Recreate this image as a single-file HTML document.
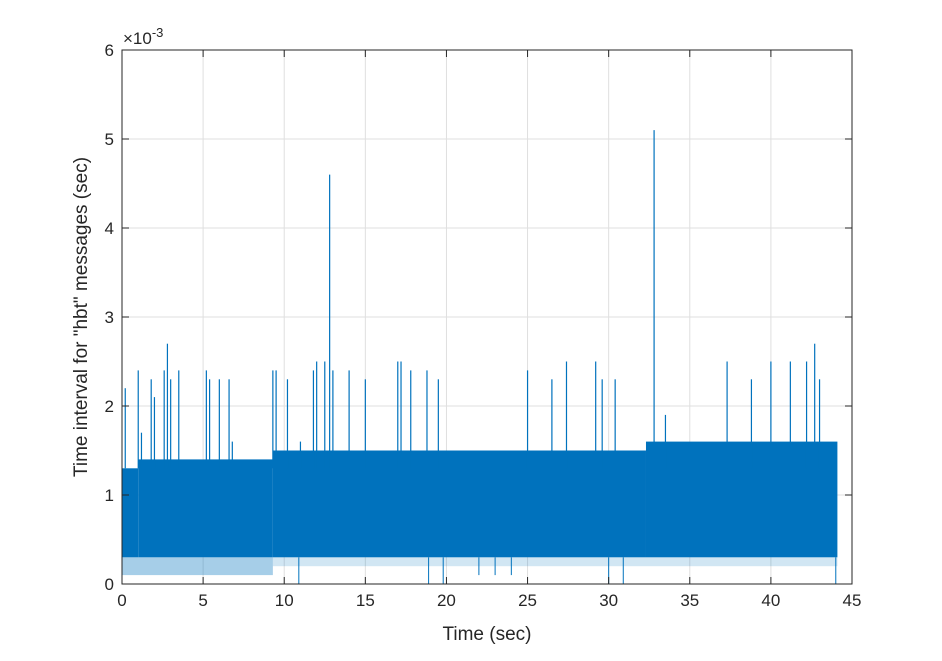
<!DOCTYPE html>
<html><head><meta charset="utf-8"><style>
body{margin:0;background:#fff;}
svg text{font-family:"Liberation Sans",sans-serif;fill:#262626;}
</style></head><body>
<svg id="chart" width="942" height="656" viewBox="0 0 942 656" xmlns="http://www.w3.org/2000/svg">
<rect width="942" height="656" fill="#fff"/>
<g id="grid"></g>
<g id="data"></g>
<g id="axes"></g>
<text x="487" y="640" font-size="19" text-anchor="middle">Time (sec)</text>
<text transform="translate(87,317) rotate(-90)" font-size="19" text-anchor="middle">Time interval for "hbt" messages (sec)</text>
<text x="123" y="44" font-size="17">×10<tspan dy="-7" font-size="13">-3</tspan></text>
</svg>
<script>
const xTicks=[0,5,10,15,20,25,30,35,40,45];
const yTicks=[0,1,2,3,4,5,6];
const bandStart=[0,1,9.3,32.3];
const bandEnd=[1,9.3,32.3,44.1];
const bandHigh=[1.3,1.4,1.5,1.6];
const bandLow=[0.3,0.3,0.3,0.3];
const dipStart=[0,9.3];
const dipEnd=[9.3,44.1];
const dipLow=[0.1,0.2];
const dipOpacity=[0.35,0.18];
const spikeT=[0.2,1.0,1.2,1.8,2.0,2.6,2.8,3.0,3.5,5.2,5.4,6.0,6.6,6.8,9.3,9.5,10.2,11.0,11.8,12.0,12.5,12.8,13.0,14.0,15.0,17.0,17.2,17.8,18.8,19.5,25.0,26.5,27.4,29.2,29.6,30.4,32.8,33.5,37.3,38.8,40.0,41.2,42.2,42.7,43.0];
const spikeV=[2.2,2.4,1.7,2.3,2.1,2.4,2.7,2.3,2.4,2.4,2.3,2.3,2.3,1.6,2.4,2.4,2.3,1.6,2.4,2.5,2.5,4.6,2.4,2.4,2.3,2.5,2.5,2.4,2.4,2.3,2.4,2.3,2.5,2.5,2.3,2.3,5.1,1.9,2.5,2.3,2.5,2.5,2.5,2.7,2.3];
const dropT=[10.9,18.9,19.8,22.0,23.0,24.0,30.0,30.9,44.0];
const dropV=[0,0,0,0.1,0.1,0.1,0,0,0];
const X0=122,X1=852,Y0=584,Y1=50;
const sx=v=>X0+(v-0)/(45-0)*(X1-X0);
const sy=v=>Y0-(v-0)/(6-0)*(Y0-Y1);
const NS="http://www.w3.org/2000/svg";
function mk(tag,attrs,parent){const e=document.createElementNS(NS,tag);for(const k in attrs)e.setAttribute(k,attrs[k]);parent.appendChild(e);return e;}
const grid=document.getElementById('grid'),data=document.getElementById('data'),axes=document.getElementById('axes');
xTicks.forEach(t=>{const l=mk('line',{x1:sx(t),x2:sx(t),y1:Y0,y2:Y1,stroke:'#dfdfdf','stroke-width':1},grid);

});
yTicks.forEach(t=>{const l=mk('line',{x1:X0,x2:X1,y1:sy(t),y2:sy(t),stroke:'#dfdfdf','stroke-width':1},grid);

});
const C='#0072BD';
dipStart.forEach((s,i)=>{const r=mk('rect',{x:sx(s),y:sy(0.3),width:sx(dipEnd[i])-sx(s),height:sy(dipLow[i])-sy(0.3),fill:C,opacity:dipOpacity[i]},data);

});
bandStart.forEach((s,i)=>{const r=mk('rect',{x:sx(s),y:sy(bandHigh[i]),width:sx(bandEnd[i])-sx(s),height:sy(bandLow[i])-sy(bandHigh[i]),fill:C},data);

});
spikeT.forEach((t,i)=>{const l=mk('line',{x1:sx(t),x2:sx(t),y1:sy(1.3),y2:sy(spikeV[i]),stroke:C,'stroke-width':1.2},data);

});
dropT.forEach((t,i)=>{const l=mk('line',{x1:sx(t),x2:sx(t),y1:sy(0.3),y2:sy(dropV[i]),stroke:C,'stroke-width':1},data);

});
const box=mk('rect',{x:X0,y:Y1,width:X1-X0,height:Y0-Y1,fill:'none',stroke:'#262626','stroke-width':1},axes);


xTicks.forEach(t=>{mk('line',{x1:sx(t),x2:sx(t),y1:Y0,y2:Y0-7,stroke:'#262626'},axes);mk('line',{x1:sx(t),x2:sx(t),y1:Y1,y2:Y1+7,stroke:'#262626'},axes);
const tx=mk('text',{x:sx(t),y:Y0+22,'font-size':17,'text-anchor':'middle'},axes);tx.textContent=t;

});
yTicks.forEach(t=>{mk('line',{x1:X0,x2:X0+7,y1:sy(t),y2:sy(t),stroke:'#262626'},axes);mk('line',{x1:X1,x2:X1-7,y1:sy(t),y2:sy(t),stroke:'#262626'},axes);
const tx=mk('text',{x:X0-8,y:sy(t)+6,'font-size':17,'text-anchor':'end'},axes);tx.textContent=t;

});
</script>
</body></html>
